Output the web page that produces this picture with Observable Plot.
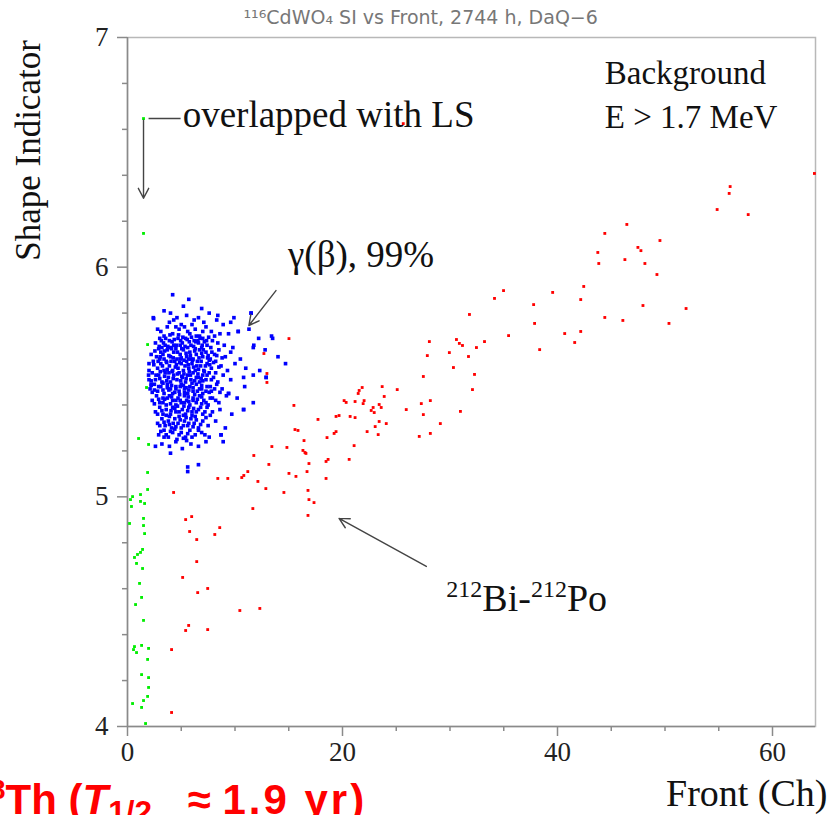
<!DOCTYPE html>
<html><head><meta charset="utf-8">
<script src="https://cdn.jsdelivr.net/npm/d3@7"></script>
<script src="https://cdn.jsdelivr.net/npm/@observablehq/plot@0.6"></script>
<style>
body{margin:0;background:#fff;width:831px;height:815px;overflow:hidden;position:relative}
#chart{position:absolute;left:0;top:0}
#note{position:absolute;left:-40px;top:779px;font:bold 42px "Liberation Sans",Arial,sans-serif;line-height:1;color:#f00;white-space:nowrap}
#note sup{font-size:0.65em;line-height:0}
#note sub{font-size:0.75em;line-height:0}
#note .ap{margin-left:24px}
#note .num{letter-spacing:3px}
</style></head><body>
<div id="chart"></div>
<div id="note"><sup>228</sup>Th (<i>T</i><sub>1/2</sub> <span class="ap">≈</span> <span class="num">1.9 yr)</span></div>
<script>
const xMajor = [0, 20, 40, 60];
const xMinor = [5, 10, 15, 25, 30, 35, 45, 50, 55];
const yMajor = [4, 5, 6, 7];
const yMinor = [4.2, 4.4, 4.6, 4.8, 5.2, 5.4, 5.6, 5.8, 6.2, 6.4, 6.6, 6.8];

const green = [[1.49,6.647],[1.49,6.147],[1.87,5.663],[1.77,5.476],[1.03,5.254],[1.96,5.228],[1.87,5.106],[1.87,5.032],[0.47,5.001],[0.28,4.988],[1.21,5.010],[1.21,4.980],[1.59,4.971],[0.37,4.958],[1.49,4.906],[0.19,4.884],[1.49,4.875],[1.59,4.840],[1.40,4.771],[1.21,4.758],[0.93,4.749],[0.65,4.736],[0.84,4.710],[1.40,4.688],[1.12,4.623],[1.31,4.562],[0.75,4.531],[1.49,4.462],[0.65,4.348],[0.56,4.335],[0.84,4.322],[1.31,4.353],[1.96,4.340],[1.87,4.292],[1.31,4.226],[1.96,4.213],[1.96,4.170],[1.87,4.131],[1.49,4.113],[0.47,4.100],[1.31,4.083],[1.68,4.013]];

const red = [[15.02,5.689],[12.69,5.624],[12.97,5.537],[12.97,5.498],[63.90,6.408],[56.06,6.351],[55.97,6.321],[54.85,6.251],[57.74,6.229],[46.45,6.186],[44.40,6.147],[49.53,6.116],[43.75,6.064],[43.84,6.016],[47.48,6.086],[47.76,6.072],[46.27,6.033],[48.13,6.016],[49.25,5.968],[42.44,5.916],[34.98,5.898],[34.14,5.864],[39.55,5.890],[42.16,5.859],[37.78,5.837],[47.95,5.833],[51.96,5.820],[31.81,5.794],[37.87,5.755],[44.40,5.781],[46.08,5.768],[50.37,5.755],[35.45,5.702],[40.67,5.711],[42.16,5.720],[41.60,5.672],[28.08,5.676],[30.60,5.685],[30.87,5.668],[31.16,5.659],[33.21,5.676],[38.34,5.641],[27.89,5.615],[29.94,5.628],[31.72,5.611],[32.46,5.650],[27.52,5.524],[30.32,5.563],[32.28,5.533],[32.09,5.467],[28.17,5.419],[27.33,5.406],[25.93,5.380],[27.52,5.358],[30.97,5.372],[29.10,5.319],[27.14,5.263],[28.17,5.276],[21.83,5.476],[21.55,5.463],[21.46,5.450],[23.69,5.480],[25.09,5.467],[23.88,5.437],[20.15,5.419],[20.34,5.411],[21.17,5.415],[22.01,5.419],[21.92,5.406],[23.41,5.402],[23.60,5.389],[22.85,5.389],[22.67,5.376],[22.95,5.367],[15.48,5.398],[19.40,5.350],[19.68,5.354],[20.71,5.350],[21.17,5.345],[17.72,5.337],[23.41,5.328],[23.04,5.306],[24.07,5.319],[22.29,5.284],[23.32,5.271],[15.58,5.293],[15.86,5.289],[19.22,5.276],[19.40,5.284],[18.56,5.258],[16.42,5.245],[13.43,5.219],[14.83,5.215],[11.75,5.180],[16.32,5.202],[16.51,5.193],[16.60,5.189],[21.08,5.223],[18.66,5.163],[18.47,5.154],[20.62,5.163],[13.15,5.141],[16.88,5.145],[11.19,5.110],[10.82,5.093],[10.63,5.084],[15.02,5.102],[15.67,5.089],[16.70,5.110],[18.47,5.080],[8.40,5.080],[9.33,5.080],[12.13,5.067],[12.87,5.036],[14.55,5.019],[16.79,5.028],[16.88,4.988],[17.35,4.975],[11.66,4.949],[16.79,4.919],[4.29,5.019],[5.41,4.901],[5.97,4.914],[5.78,4.849],[6.44,4.814],[8.12,4.836],[8.58,4.866],[6.44,4.718],[5.13,4.649],[6.53,4.583],[7.46,4.601],[10.45,4.505],[12.31,4.514],[5.41,4.418],[5.69,4.440],[7.46,4.422],[4.10,4.335],[4.10,4.061],[25.65,6.625]];

const blue = [[4.2,5.88],[5.7,5.86],[4.0,5.80],[6.9,5.82],[3.4,5.81],[7.6,5.80],[5.2,5.83],[8.4,5.79],[9.9,5.78],[11.5,5.80],
[2.4,5.78],[4.6,5.78],[5.5,5.79],[6.2,5.77],[8.3,5.77],[9.6,5.76],[3.9,5.76],[7.1,5.76],[5.0,5.75],[6.6,5.78],[4.3,5.77],[8.9,5.75],
[3.1,5.72],[3.7,5.74],[4.2,5.71],[4.8,5.73],[5.3,5.74],[5.8,5.71],[6.3,5.73],[6.7,5.70],[7.3,5.74],[7.8,5.72],[8.6,5.71],[10.3,5.72],[11.3,5.73],[3.4,5.70],[5.6,5.72],[6.0,5.75],[4.5,5.74],[7.0,5.72],[9.4,5.71],[2.8,5.73],
[2.6,5.67],[3.0,5.69],[3.5,5.66],[3.9,5.68],[4.3,5.66],[4.7,5.69],[5.1,5.67],[5.4,5.69],[5.9,5.66],[6.2,5.68],[6.6,5.67],[7.0,5.69],[7.4,5.66],[7.9,5.68],[8.4,5.67],[9.0,5.66],[9.8,5.65],[11.75,5.66],[12.2,5.69],[13.4,5.70],[4.0,5.65],[5.6,5.65],[6.9,5.65],[3.2,5.65],[4.9,5.66],[6.4,5.70],[8.1,5.70],
[2.2,5.62],[2.7,5.61],[3.1,5.63],[3.4,5.60],[3.7,5.64],[4.0,5.61],[4.3,5.63],[4.6,5.60],[4.9,5.62],[5.2,5.64],[5.5,5.61],[5.8,5.63],[6.1,5.60],[6.4,5.62],[6.7,5.64],[7.0,5.61],[7.3,5.63],[7.7,5.60],[8.1,5.62],[8.5,5.64],[9.1,5.61],[9.6,5.63],[10.5,5.60],[12.8,5.64],[14.0,5.61],[3.3,5.62],[4.5,5.645],[5.0,5.605],[5.7,5.60],[6.3,5.645],[6.9,5.625],[7.5,5.615],[8.8,5.605],[2.9,5.645],[4.1,5.645],
[2.0,5.58],[2.4,5.59],[2.8,5.56],[3.1,5.58],[3.4,5.55],[3.6,5.59],[3.9,5.57],[4.2,5.55],[4.4,5.59],[4.7,5.56],[5.0,5.58],[5.2,5.55],[5.5,5.59],[5.7,5.56],[6.0,5.58],[6.3,5.55],[6.5,5.59],[6.8,5.57],[7.1,5.55],[7.4,5.58],[7.8,5.56],[8.2,5.59],[8.7,5.57],[9.3,5.55],[10.0,5.58],[11.0,5.56],[12.3,5.55],[14.7,5.58],[3.0,5.60],[4.9,5.60],[5.9,5.60],[6.6,5.555],[7.6,5.595],[3.7,5.555],[4.55,5.575],[5.35,5.57],[6.15,5.565],
[1.96,5.53],[2.0,5.55],[2.3,5.54],[2.6,5.51],[2.9,5.53],[3.2,5.50],[3.5,5.54],[3.8,5.52],[4.0,5.50],[4.3,5.53],[4.6,5.51],[4.8,5.54],[5.1,5.52],[5.4,5.50],[5.6,5.53],[5.9,5.51],[6.1,5.54],[6.4,5.52],[6.7,5.50],[7.0,5.53],[7.3,5.51],[7.6,5.54],[8.0,5.52],[8.4,5.50],[8.9,5.53],[9.6,5.51],[10.8,5.52],[11.7,5.53],[12.9,5.52],[3.0,5.515],[4.15,5.545],[4.95,5.505],[5.75,5.545],[6.55,5.535],[7.15,5.545],[3.65,5.505],[5.25,5.535],[6.85,5.515],
[2.0,5.51],[2.2,5.49],[2.1,5.47],[2.5,5.49],[2.8,5.46],[3.1,5.48],[3.4,5.45],[3.7,5.49],[4.0,5.47],[4.2,5.45],[4.5,5.48],[4.8,5.46],[5.0,5.49],[5.3,5.47],[5.6,5.45],[5.8,5.48],[6.1,5.46],[6.4,5.49],[6.7,5.47],[7.0,5.45],[7.4,5.48],[7.8,5.46],[8.3,5.49],[8.8,5.47],[9.4,5.45],[10.9,5.48],[3.3,5.495],[4.4,5.455],[5.2,5.485],[6.0,5.495],[6.9,5.485],[7.6,5.455],[2.3,5.455],[3.85,5.465],[5.45,5.475],
[2.3,5.42],[2.7,5.44],[3.0,5.41],[3.3,5.43],[3.6,5.40],[3.9,5.44],[4.2,5.42],[4.5,5.40],[4.7,5.43],[5.0,5.41],[5.3,5.44],[5.5,5.42],[5.8,5.40],[6.1,5.43],[6.4,5.41],[6.7,5.44],[7.1,5.42],[7.5,5.40],[7.9,5.43],[8.5,5.41],[9.2,5.44],[11.7,5.41],[10.2,5.43],[4.0,5.405],[4.85,5.445],[5.65,5.435],[6.25,5.445],[6.9,5.405],[3.45,5.425],
[2.6,5.37],[3.0,5.39],[3.3,5.36],[3.6,5.38],[3.9,5.35],[4.2,5.39],[4.5,5.37],[4.8,5.35],[5.1,5.38],[5.4,5.36],[5.7,5.39],[6.0,5.37],[6.3,5.35],[6.6,5.38],[7.0,5.36],[7.4,5.39],[7.9,5.37],[8.6,5.38],[9.7,5.36],[10.8,5.38],[4.05,5.375],[5.25,5.395],[6.15,5.385],[4.65,5.395],
[2.8,5.32],[3.2,5.34],[3.5,5.31],[3.8,5.33],[4.1,5.30],[4.4,5.34],[4.7,5.32],[5.0,5.30],[5.3,5.33],[5.6,5.31],[5.9,5.34],[6.2,5.32],[6.6,5.30],[7.0,5.33],[7.5,5.31],[8.2,5.33],[9.1,5.30],[4.25,5.32],[5.45,5.345],
[2.9,5.27],[3.4,5.29],[3.8,5.26],[4.2,5.28],[4.6,5.25],[5.0,5.28],[5.4,5.26],[5.8,5.29],[6.3,5.27],[6.9,5.28],[7.6,5.26],[8.7,5.27],[4.4,5.295],[5.2,5.255],[3.4,5.26],
[3.2,5.23],[3.9,5.22],[4.5,5.24],[5.1,5.21],[5.9,5.23],[6.6,5.22],[7.3,5.24],[8.9,5.24],[5.5,5.245],[4.0,5.19],[2.6,5.22],[6.6,5.14],[5.6,5.13],[5.6,5.11],
[3.15,5.68],[3.55,5.69],[3.95,5.705],[4.35,5.685],[4.75,5.705],[5.15,5.695],[5.55,5.685],[5.95,5.695],[6.35,5.675],[6.75,5.69],[7.15,5.675],[7.55,5.695],
[2.95,5.655],[3.35,5.67],[3.75,5.655],[4.15,5.675],[4.55,5.66],[4.95,5.68],[5.35,5.655],[5.75,5.675],[6.15,5.655],[6.55,5.68],[6.95,5.66],[7.35,5.68],[7.75,5.65],
[2.55,5.635],[3.05,5.61],[3.45,5.635],[3.85,5.615],[4.25,5.605],[4.65,5.63],[5.05,5.645],[5.45,5.625],[5.85,5.615],[6.25,5.635],[6.65,5.605],[7.05,5.64],[7.45,5.605],[7.85,5.63],[8.3,5.615],
[2.45,5.575],[2.85,5.59],[3.25,5.57],[3.65,5.585],[4.05,5.59],[4.45,5.565],[4.85,5.585],[5.25,5.595],[5.65,5.575],[6.05,5.595],[6.45,5.57],[6.85,5.59],[7.25,5.57],[7.65,5.575],[8.0,5.585],[8.5,5.565],
[2.2,5.505],[2.65,5.53],[3.05,5.545],[3.45,5.525],[3.85,5.54],[4.25,5.515],[4.65,5.535],[5.05,5.525],[5.45,5.515],[5.85,5.53],[6.25,5.505],[6.6,5.52],[7.0,5.505],[7.4,5.53],[7.8,5.51],[8.2,5.54],
[2.5,5.465],[2.9,5.48],[3.3,5.465],[3.7,5.475],[4.1,5.485],[4.5,5.47],[4.9,5.48],[5.3,5.455],[5.7,5.465],[6.1,5.475],[6.5,5.46],[6.9,5.47],[7.3,5.46],[7.7,5.48],[8.1,5.47],[8.6,5.455],
[2.5,5.405],[2.9,5.425],[3.3,5.41],[3.7,5.43],[4.1,5.435],[4.5,5.42],[4.9,5.42],[5.3,5.41],[5.7,5.415],[6.1,5.42],[6.5,5.425],[6.9,5.435],[7.3,5.41],[7.7,5.43],[8.2,5.42],
[2.8,5.36],[3.2,5.375],[3.6,5.355],[4.0,5.36],[4.4,5.385],[4.8,5.37],[5.2,5.355],[5.6,5.375],[6.0,5.355],[6.4,5.37],[6.8,5.39],[7.2,5.37],[7.7,5.355],
[3.0,5.31],[3.4,5.325],[3.9,5.315],[4.5,5.305],[4.9,5.335],[5.2,5.31],[5.7,5.32],[6.1,5.305],[6.4,5.335],[6.8,5.315],[7.3,5.345],
[3.1,5.285],[3.6,5.27],[4.0,5.285],[4.8,5.27],[5.6,5.275],[6.0,5.26],[6.6,5.29],[7.2,5.27],
[11.5,5.80],[10.3,5.72],[13.5,5.69],[12.9,5.52],[11.7,5.65],[9.4,5.45],[10.8,5.38],[8.7,5.27],[2.43,5.776],[2.2,5.485]];

const serif = '"Liberation Serif","Times New Roman",serif';
const axisGrey = "#8a8a8a";

const chart = Plot.plot({
  width: 831, height: 815,
  marginLeft: 127, marginRight: 16, marginTop: 37, marginBottom: 89,
  style: {fontFamily: serif, fontSize: "27px", color: "#111", background: "#fff", overflow: "visible"},
  x: {domain: [0, 64], label: null},
  y: {domain: [4, 7], label: null},
  marks: [
    Plot.frame({stroke: "#b8b8b8", strokeWidth: 1.5}),
    Plot.axisX(xMinor, {tickSize: 5, tickFormat: () => "", stroke: axisGrey, strokeWidth: 1.5, label: null}),
    Plot.axisX(xMajor, {tickSize: 10, tickPadding: 5, tickFormat: d => String(d), stroke: axisGrey, strokeWidth: 1.5, fill: "#222", label: null}),
    Plot.axisY(yMinor, {tickSize: 5, tickFormat: () => "", stroke: axisGrey, strokeWidth: 1.5, label: null}),
    Plot.axisY(yMajor, {tickSize: 10, tickPadding: 9, tickFormat: d => String(d), stroke: axisGrey, strokeWidth: 1.5, fill: "#222", label: null}),
    Plot.ruleY([4], {stroke: axisGrey, strokeWidth: 1.5}),
    Plot.ruleX([0], {stroke: axisGrey, strokeWidth: 1.5}),
    Plot.dot(blue, {x: d => d[0], y: d => d[1], fill: "#0000ff", r: 2.05, symbol: "square"}),
    Plot.dot(green, {x: d => d[0], y: d => d[1], fill: "#00ee00", r: 1.6, symbol: "square"}),
    Plot.dot(red, {x: d => d[0], y: d => d[1], fill: "#ff0000", r: 1.6, symbol: "square"}),
    Plot.arrow([0], {x1: () => 1.49, y1: () => 6.64, x2: () => 1.49, y2: () => 6.30, stroke: "#444", strokeWidth: 1.4, headLength: 12, headAngle: 55}),
    Plot.link([0], {x1: () => 1.96, y1: () => 6.647, x2: () => 4.94, y2: () => 6.647, stroke: "#444", strokeWidth: 1.4}),
    Plot.arrow([0], {x1: () => 13.81, y1: () => 5.898, x2: () => 11.29, y2: () => 5.746, stroke: "#444", strokeWidth: 1.4, headLength: 12, headAngle: 55}),
    Plot.arrow([0], {x1: () => 27.8, y1: () => 4.697, x2: () => 19.68, y2: () => 4.906, stroke: "#444", strokeWidth: 1.4, headLength: 12, headAngle: 55}),
    Plot.text(["overlapped with LS"], {x: () => 5.13, y: () => 6.660, text: d => d, textAnchor: "start", lineAnchor: "middle", fontSize: 37, fill: "#111"}),
    Plot.text(["γ(β), 99%"], {x: () => 14.93, y: () => 6.051, text: d => d, textAnchor: "start", lineAnchor: "middle", fontSize: 37, fill: "#111"}),
    Plot.text(["212Bi-212Po"], {x: () => 29.66, y: () => 4.557, text: d => d, textAnchor: "start", lineAnchor: "middle", fontSize: 38, fill: "#111", className: "bipo"}),
    Plot.text(["Background"], {x: () => 44.4, y: () => 6.845, text: d => d, textAnchor: "start", lineAnchor: "middle", fontSize: 33, fill: "#111"}),
    Plot.text(["E > 1.7 MeV"], {x: () => 44.4, y: () => 6.654, text: d => d, textAnchor: "start", lineAnchor: "middle", fontSize: 33, fill: "#111"}),
    Plot.text(["¹¹⁶CdWO₄ SI vs Front, 2744 h, DaQ−6"], {frameAnchor: "top-left", dx: 116, dy: -20, text: d => d, textAnchor: "start", lineAnchor: "middle", fontFamily: "DejaVu Sans", fontSize: 19, fill: "#777"}),
    Plot.text(["Shape Indicator"], {frameAnchor: "top-left", dx: -99, dy: 113, rotate: -90, text: d => d, textAnchor: "middle", lineAnchor: "middle", fontSize: 35, fill: "#111"}),
    Plot.text(["Front (Ch)"], {frameAnchor: "bottom-right", dx: 12, dy: 67, textAnchor: "end", lineAnchor: "middle", text: d => d, fontSize: 38, fill: "#111"})
  ]
});

// superscripts for the nuclide label
d3.select(chart).selectAll(".bipo text").each(function() {
  const t = d3.select(this);
  t.text(null);
  const parts = [["212", true], ["Bi-", false], ["212", true], ["Po", false]];
  parts.forEach(([s, sup]) => {
    t.append("tspan").attr("font-size", sup ? 24 : 38).attr("dy", sup ? -14 : 14).text(s);
  });
});
document.getElementById("chart").appendChild(chart);
</script>
</body></html>
